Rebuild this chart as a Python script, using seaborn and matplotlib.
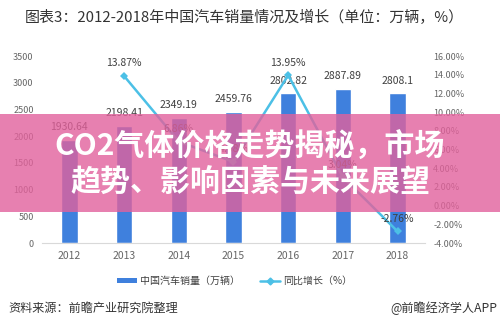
import matplotlib
matplotlib.use("Agg")
import matplotlib.pyplot as plt
import seaborn as sns
import pandas as pd
import numpy as np
from matplotlib.patches import Patch, Rectangle
from matplotlib.lines import Line2D

years = ["2012", "2013", "2014", "2015", "2016", "2017", "2018"]
sales = [1930.64, 2198.41, 2349.19, 2459.76, 2802.82, 2887.89, 2808.1]
sales_labels = ["1930.64", "2198.41", "2349.19", "2459.76", "2802.82", "2887.89", "2808.1"]
growth_years = ["2013", "2014", "2015", "2016", "2017", "2018"]
growth = [13.87, 6.86, 4.68, 13.95, 3.04, -2.76]
left_ticks = [0, 500, 1000, 1500, 2000, 2500, 3000, 3500]
right_ticks = [-4, -2, 0, 2, 4, 6, 8, 10, 12, 14, 16]

title = "图表3：2012-2018年中国汽车销量情况及增长（单位：万辆，%）"
legend_bar = "中国汽车销量（万辆）"
legend_line = "同比增长（%）"
source = "资料来源：前瞻产业研究院整理"
brand = "@前瞻经济学人APP"
banner_lines = ["CO2气体价格走势揭秘，市场", "趋势、影响因素与未来展望"]

sns.set_theme(style="white")
plt.rcParams['font.family'] = ['Noto Sans CJK SC', 'DejaVu Sans']

BLUE = "#3F80DD"
CYAN = "#4CC0E6"
TXT = "#404040"
AX = "#666666"

fig = plt.figure(figsize=(5, 3.28), dpi=100)
ax = fig.add_axes([0.084, 0.259, 0.766, 0.570])

df = pd.DataFrame({"year": years, "sales": sales})
sns.barplot(data=df, x="year", y="sales", color=BLUE, width=0.3, saturation=1, ax=ax)
ax.set_xlim(-0.5, 6.5)
ax.set_ylim(0, 3500)
ax.set_yticks(left_ticks)
ax.set_yticklabels([str(t) for t in left_ticks], fontsize=6.5, color=AX)
ax.tick_params(axis='x', labelsize=7.5, colors=AX, length=0, pad=6)
ax.tick_params(axis='y', length=0, pad=6)
ax.set_xlabel("")
ax.set_ylabel("")
for s in ["top", "right", "left"]:
    ax.spines[s].set_visible(False)
ax.spines["bottom"].set_color("#D9D9D9")
ax.spines["bottom"].set_linewidth(0.8)

for i, (v, lab) in enumerate(zip(sales, sales_labels)):
    ax.annotate(lab, (i, v), xytext=(0, 9), textcoords="offset points",
                ha="center", va="center", fontsize=7.5, color=TXT)

ax2 = ax.twinx()
ax2.set_position(ax.get_position())
gx = [years.index(y) for y in growth_years]
sns.lineplot(x=gx, y=growth, ax=ax2, color=CYAN, linewidth=1.8,
             marker="D", markersize=4, markeredgewidth=0)
ax2.set_ylim(-4, 16)
ax2.set_xlim(-0.5, 6.5)
ax2.set_yticks(right_ticks)
ax2.set_yticklabels([f"{t:.2f}%" for t in right_ticks], fontsize=6.5, color=AX)
ax2.tick_params(axis='y', length=0, pad=6)
for s in ["top", "right", "left", "bottom"]:
    ax2.spines[s].set_visible(False)
for x, v in zip(gx, growth):
    ax2.annotate(f"{v:.2f}%", (x, v), xytext=(0, 9), textcoords="offset points",
                 ha="center", va="center", fontsize=7.5, color=TXT)

fig.text(0.05, 1 - 17 / 328, title, fontsize=10.8, color="#333333", ha="left", va="center")

handles = [Patch(facecolor=BLUE, edgecolor="none"),
           Line2D([0], [0], color=CYAN, lw=1.8, marker="D", markersize=3.5)]
fig.legend(handles, [legend_bar, legend_line], loc="center",
           bbox_to_anchor=(0.47, 1 - 281 / 328), ncol=2, frameon=False,
           fontsize=7.2, labelcolor=TXT, handlelength=2.0, handleheight=0.5,
           columnspacing=2.0, handletextpad=0.3)

fig.text(0.016, 1 - 308 / 328, source, fontsize=8.7, color="#333333", ha="left", va="center",
         style="italic")
fig.text(0.994, 1 - 308 / 328, brand, fontsize=8.7, color="#333333", ha="right", va="center")

fig.patches.append(Rectangle((0, 1 - 212 / 328), 1, 98 / 328, transform=fig.transFigure,
                             facecolor="#E2619C", alpha=0.8, edgecolor="none", zorder=5))
fig.text(0.5, 1 - 147 / 328, banner_lines[0], fontsize=21.6, fontweight="bold", color="white",
         ha="center", va="center", zorder=6)
fig.text(0.5, 1 - 183 / 328, banner_lines[1], fontsize=21.6, fontweight="bold", color="white",
         ha="center", va="center", zorder=6)

fig.savefig("out.png", dpi=100)
